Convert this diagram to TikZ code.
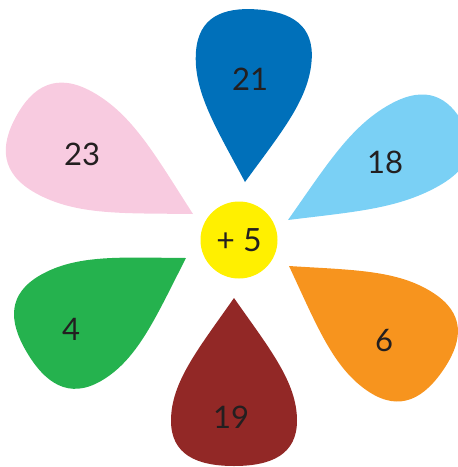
\documentclass[tikz,border=0pt]{standalone}
\usepackage{fontspec}
\setmainfont{Lato}
\definecolor{cblue}{RGB}{0,112,186}
\definecolor{clight}{RGB}{122,208,245}
\definecolor{cpink}{RGB}{248,203,224}
\definecolor{cgreen}{RGB}{37,178,78}
\definecolor{cbrown}{RGB}{146,40,38}
\definecolor{corange}{RGB}{247,148,30}
\definecolor{cyellow}{RGB}{255,240,0}
\definecolor{ctext}{RGB}{35,31,32}
\tikzset{
  numlabel/.style={font=\fontsize{31}{36}\selectfont, text=ctext, inner sep=0pt},
  centre/.style={circle, fill=cyellow, minimum size=77pt, inner sep=0pt,
    font=\fontsize{32}{38}\selectfont, text=ctext}
}
% #1 colour, #2 #3 tip, #4 image angle, #5 length, #6 #7 half widths
\newcommand\drawpetal[7]{%
  \begin{scope}[shift={(#2,#3)}, rotate={-(#4)}]
    \fill[#1] (0,0) .. controls ({0.3*#5},{0.56*#6}) and ({0.5*#5},{#6}) .. ({0.73*#5},{#6})
      .. controls ({0.93*#5},{#6}) and ({#5},{0.6*#6}) .. ({#5},0)
      .. controls ({#5},{-0.6*#7}) and ({0.93*#5},{-#7}) .. ({0.73*#5},{-#7})
      .. controls ({0.5*#5},{-#7}) and ({0.3*#5},{-0.56*#7}) .. cycle;
  \end{scope}}
\begin{document}
\begin{tikzpicture}[x=1pt,y=-1pt]
\useasboundingbox (0,0) rectangle (458,467);
\drawpetal{cblue}{245}{182}{-86}{173}{58}{58}
\drawpetal{clight}{288}{220}{-28.5}{200}{42}{53}
\drawpetal{cpink}{193}{214}{-151}{202}{58}{58}
\drawpetal{cgreen}{186}{258}{150}{185}{58}{64}
\drawpetal{cbrown}{234}{298}{90}{168}{63}{63}
\drawpetal{corange}{289}{266}{33}{186}{62}{56}
\node[centre] (c) at (239,240) {+ 5};
\node[numlabel] (n21) at (250,79) {21};
\node[numlabel] (n18) at (385,162) {18};
\node[numlabel] (n23) at (82,154) {23};
\node[numlabel] (n4) at (71,329) {4};
\node[numlabel] (n19) at (231,417) {19};
\node[numlabel] (n6) at (384,341) {6};
\end{tikzpicture}
\end{document}
